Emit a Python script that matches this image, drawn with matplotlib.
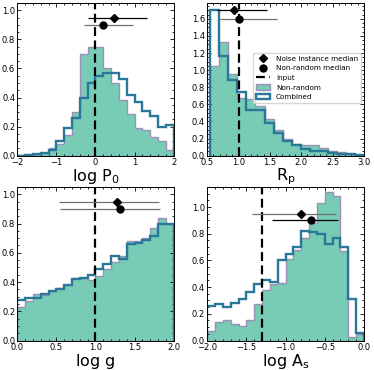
import numpy as np
import matplotlib.pyplot as plt
from matplotlib.ticker import AutoMinorLocator
from matplotlib.lines import Line2D
from matplotlib.patches import Patch

GREEN = '#78cbb4'
PURPLE = '#9b90b6'
BLUE = '#2a7899'
GRAY = '#707070'

################################################################################
# DATA
################################################################################

# log P0
p0_edges = np.linspace(-2, 2, 21)
p0_nonrandom = [0.003, 0.005, 0.01, 0.02, 0.05, 0.08, 0.14, 0.30, 0.70, 0.75,
                0.75, 0.60, 0.50, 0.38, 0.29, 0.19, 0.18, 0.13, 0.10, 0.04]
p0_combined = [0.0, 0.003, 0.01, 0.02, 0.04, 0.10, 0.19, 0.26, 0.40, 0.50,
               0.55, 0.57, 0.57, 0.53, 0.42, 0.37, 0.31, 0.27, 0.20, 0.21]
p0_input = 0.0
p0_noise = (0.48, -0.20, 1.33)     # median, low, high
p0_median = (0.20, -0.29, 0.95)

# R_p
rp_edges = np.linspace(0.55, 3.0, 18)
rp_nonrandom = [1.05, 1.33, 0.96, 0.67, 0.66, 0.58, 0.43, 0.30, 0.20, 0.14,
                0.13, 0.12, 0.09, 0.06, 0.04, 0.02, 0.01]
rp_combined = [1.70, 1.16, 0.89, 0.75, 0.53, 0.53, 0.38, 0.27, 0.17, 0.13,
               0.08, 0.05, 0.05, 0.03, 0.02, 0.02, 0.01]
rp_input = 1.0
rp_noise = (0.92, 0.65, 1.45)
rp_median = (1.00, 0.71, 1.61)

# log g
g_edges = np.linspace(0, 2, 21)
g_nonrandom = [0.23, 0.27, 0.32, 0.31, 0.34, 0.36, 0.38, 0.43, 0.43, 0.415,
               0.44, 0.49, 0.54, 0.58, 0.68, 0.68, 0.70, 0.77, 0.84, 0.80]
g_combined = [0.275, 0.29, 0.29, 0.32, 0.34, 0.35, 0.38, 0.42, 0.43, 0.45,
              0.49, 0.52, 0.575, 0.555, 0.66, 0.67, 0.69, 0.715, 0.795, 0.795]
g_input = 1.0
g_noise = (1.28, 0.53, 1.81)
g_median = (1.32, 0.54, 1.83)

# log As
as_edges = np.linspace(-2, 0, 21)
as_nonrandom = [0.07, 0.14, 0.15, 0.12, 0.11, 0.15, 0.27, 0.38, 0.42, 0.43,
                0.61, 0.68, 0.77, 0.88, 1.03, 1.11, 1.08, 0.67, 0.03, 0.05]
as_combined = [0.26, 0.27, 0.25, 0.28, 0.31, 0.36, 0.42, 0.45, 0.44, 0.60,
               0.65, 0.70, 0.82, 0.81, 0.80, 0.72, 0.77, 0.70, 0.31, 0.06]
as_input = np.log10(0.05)
as_noise = (-0.80, -1.43, -0.35)
as_median = (-0.67, -1.17, -0.33)

################################################################################
# PLOTTING
################################################################################


def panel(ax, edges, nonrandom, combined, truth, noise, median, ymarks,
          ecolors, xlim, ylim, xlabel):
    centers = 0.5 * (edges[1:] + edges[:-1])
    ax.hist(centers, bins=edges, weights=nonrandom, histtype='stepfilled',
            facecolor=GREEN, edgecolor=PURPLE, lw=1.0, zorder=1)
    ax.hist(centers, bins=edges, weights=combined, histtype='step',
            color=BLUE, lw=1.7, zorder=2)
    ax.axvline(truth, color='k', ls='--', lw=1.6, dashes=(4, 2), zorder=3)

    for (med, lo, hi), y, mk, ms, ec in zip([noise, median], ymarks,
                                             ['D', 'o'], [4, 5], ecolors):
        ax.errorbar([med], [y], xerr=[[med - lo], [hi - med]], fmt='none',
                    ecolor=ec, elinewidth=0.9, zorder=4)
        ax.plot([med], [y], mk, color='k', ms=ms, zorder=5)

    ax.set_xlim(*xlim)
    ax.set_ylim(*ylim)
    ax.set_xlabel(xlabel, fontsize=11.5, labelpad=0)
    ax.xaxis.set_minor_locator(AutoMinorLocator())
    ax.yaxis.set_minor_locator(AutoMinorLocator())
    ax.tick_params(which='both', direction='in', top=True, right=True,
                   labelsize=6, pad=1.5, width=0.6)
    ax.tick_params(which='major', length=3)
    ax.tick_params(which='minor', length=1.6)
    for s in ax.spines.values():
        s.set_linewidth(0.7)


fig = plt.figure(figsize=(3.74, 3.70), dpi=100)
ax1 = fig.add_axes([0.0463, 0.5792, 0.418, 0.4127])
ax2 = fig.add_axes([0.554, 0.5792, 0.419, 0.4127])
ax3 = fig.add_axes([0.0463, 0.0797, 0.418, 0.4149])
ax4 = fig.add_axes([0.554, 0.0797, 0.419, 0.4149])

panel(ax1, p0_edges, p0_nonrandom, p0_combined, p0_input, p0_noise,
      p0_median, [0.95, 0.90], ['k', GRAY], (-2, 2), (0, 1.05),
      r'$\log\,\mathrm{P_0}$')
ax1.set_xticks([-2, -1, 0, 1, 2])

panel(ax2, rp_edges, rp_nonrandom, rp_combined, rp_input, rp_noise,
      rp_median, [1.70, 1.60], ['k', GRAY], (0.5, 3.0), (0, 1.785),
      r'$\mathrm{R_p}$')

panel(ax3, g_edges, g_nonrandom, g_combined, g_input, g_noise,
      g_median, [0.95, 0.90], [GRAY, GRAY], (0, 2), (0, 1.05),
      r'$\log\,\mathrm{g}$')
ax3.set_xticks([0, 0.5, 1.0, 1.5, 2.0])

panel(ax4, as_edges, as_nonrandom, as_combined, as_input, as_noise,
      as_median, [0.95, 0.90], [GRAY, 'k'], (-2, 0), (0, 1.15),
      r'$\log\,\mathrm{A_s}$')

handles = [
    Line2D([], [], marker='D', color='k', ls='none', ms=4),
    Line2D([], [], marker='o', color='k', ls='none', ms=5),
    Line2D([], [], color='k', ls='--', lw=1.6, dashes=(4, 2)),
    Patch(facecolor=GREEN, edgecolor=PURPLE, lw=1.0),
    Patch(facecolor='white', edgecolor=BLUE, lw=1.7),
]
labels = ['Noise instance median', 'Non-random median', 'Input',
          'Non-random', 'Combined']
ax2.legend(handles, labels, loc='center right', bbox_to_anchor=(1.0, 0.51),
           fontsize=5.2, borderaxespad=0.4)

fig.savefig('out.png', dpi=100)
